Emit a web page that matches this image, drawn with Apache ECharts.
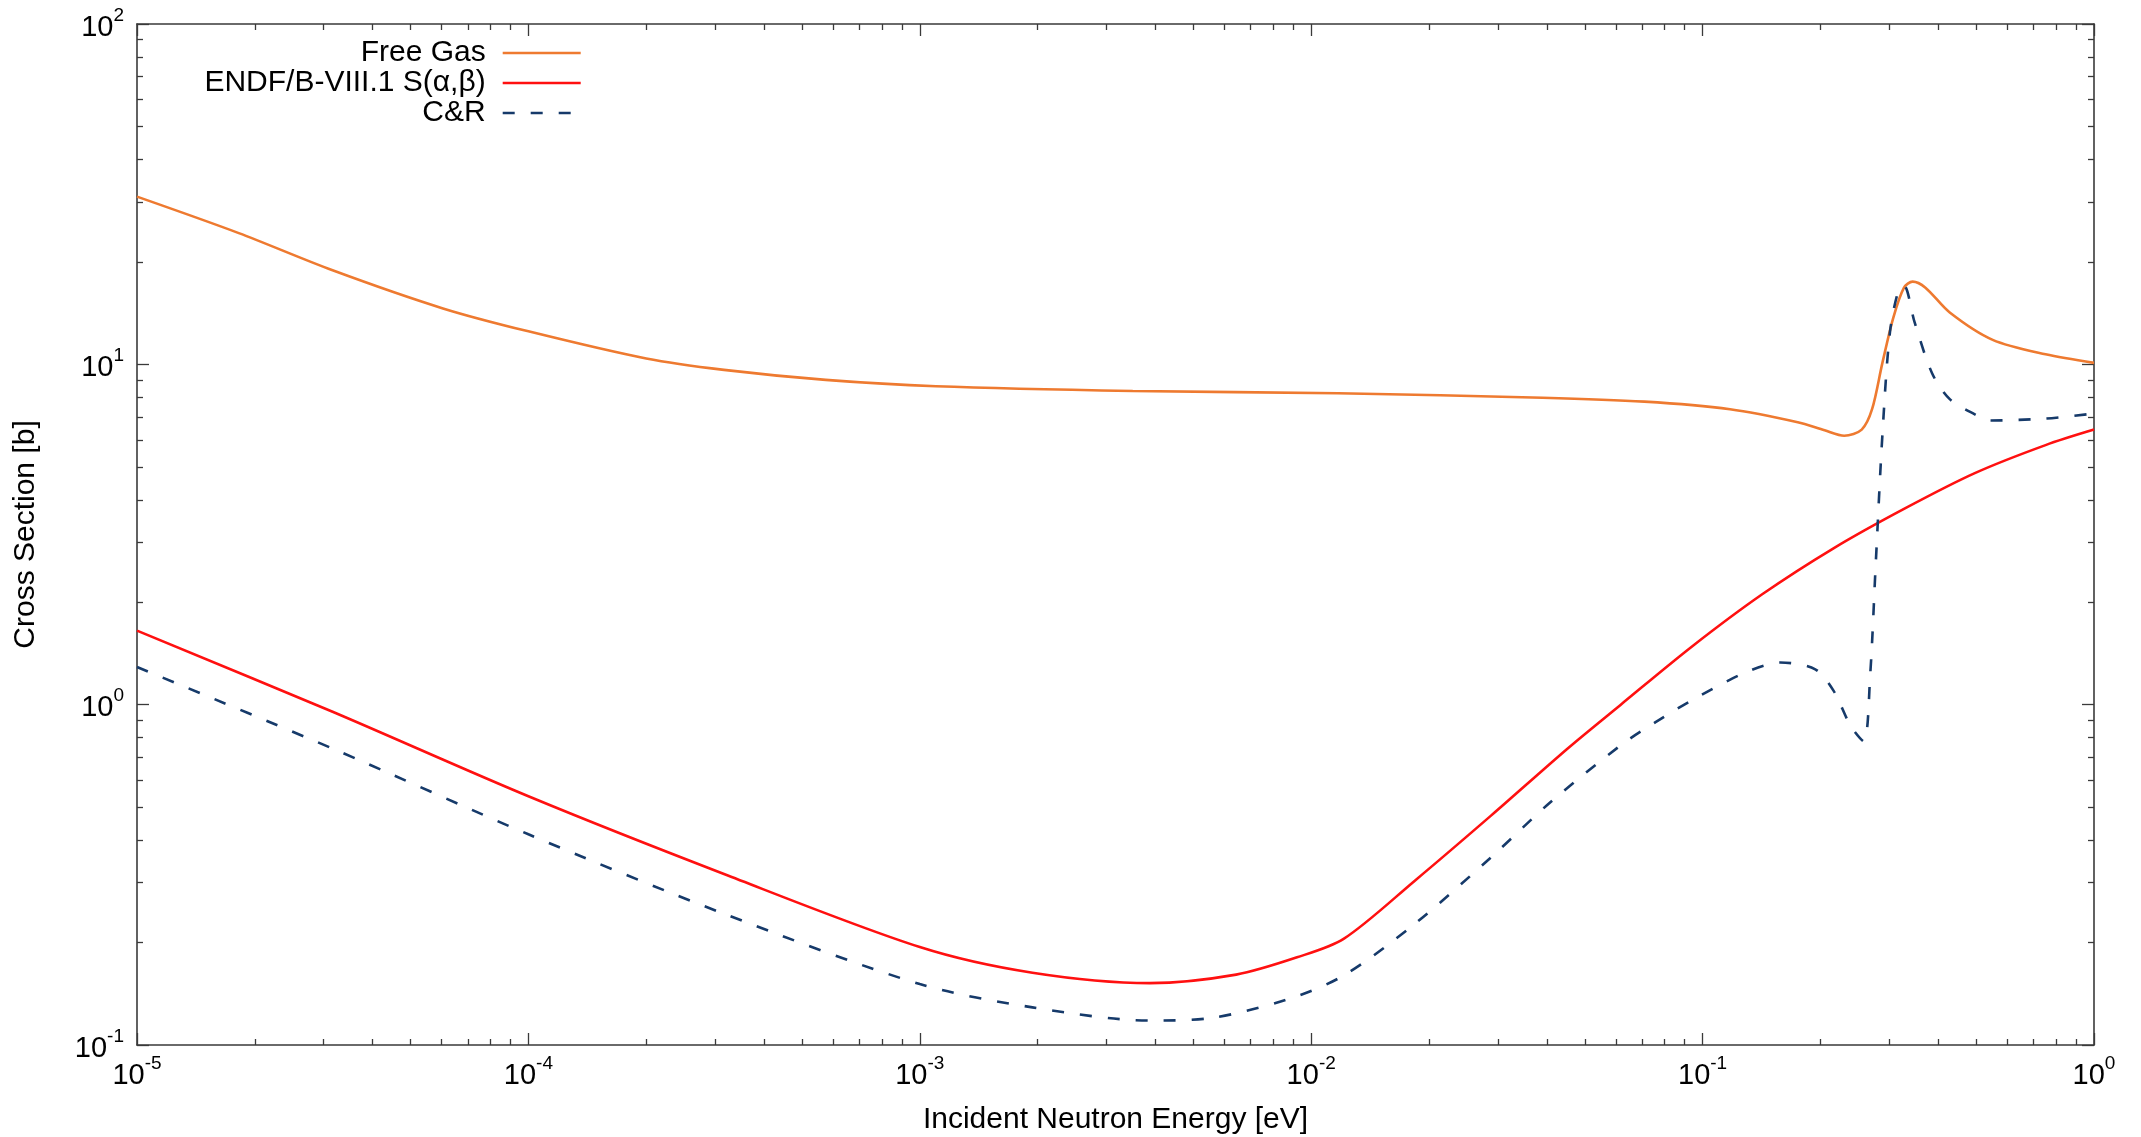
<!DOCTYPE html>
<html>
<head>
<meta charset="utf-8">
<script src="https://cdn.jsdelivr.net/npm/echarts@6/dist/echarts.min.js"></script>
<style>
html,body{margin:0;padding:0;background:#fff;}
#chart{width:2141px;height:1137px;}
</style>
</head>
<body>
<div id="chart"></div>
<script>
// ---- data ----
const freeGasE  = [1e-5, 1.82e-5, 3.16e-5, 6.05e-5, 1e-4, 2e-4, 3.16e-4, 5.75e-4, 1.1e-3, 3.5e-3, 1.17e-2, 3.9e-2, 7.1e-2, 0.1175, 0.175, 0.205, 0.23, 0.255, 0.271, 0.288, 0.307, 0.327, 0.344, 0.371, 0.428, 0.551, 0.752, 1.0];
const freeGasXS = [31.1, 24.3, 18.9, 14.6, 12.5, 10.4, 9.63, 9.0, 8.62, 8.35, 8.22, 7.98, 7.77, 7.38, 6.76, 6.4, 6.17, 6.43, 7.38, 10.1, 13.7, 16.8, 17.5, 16.8, 14.2, 11.8, 10.7, 10.1];

const endfE  = [1e-5, 3.16e-5, 1e-4, 3.16e-4, 1e-3, 1.94e-3, 3.87e-3, 6.43e-3, 9.2e-3, 1.21e-2, 1.84e-2, 2.88e-2, 4.53e-2, 6.18e-2, 9.38e-2, 0.142, 0.216, 0.327, 0.496, 0.752, 1.0];
const endfXS = [1.65, 0.953, 0.538, 0.318, 0.194, 0.163, 0.152, 0.161, 0.181, 0.205, 0.304, 0.472, 0.745, 1.0, 1.48, 2.11, 2.88, 3.76, 4.79, 5.79, 6.43];

const crE  = [1e-5, 3.16e-5, 1e-4, 3.16e-4, 1e-3, 1.94e-3, 3.87e-3, 5.53e-3, 8.67e-3, 1.21e-2, 1.84e-2, 2.88e-2, 4.07e-2, 6.18e-2, 7.6e-2, 9.38e-2, 0.128, 0.158, 0.194, 0.216, 0.239, 0.258, 0.268, 0.277, 0.288, 0.301, 0.317, 0.327, 0.348, 0.386, 0.428, 0.496, 0.543, 0.752, 1.0];
const crXS = [1.29, 0.743, 0.416, 0.243, 0.151, 0.129, 0.118, 0.12, 0.136, 0.16, 0.227, 0.356, 0.515, 0.76, 0.89, 1.03, 1.24, 1.33, 1.27, 1.10, 0.865, 0.78, 1.22, 2.61, 6.2, 12.4, 16.6, 17.0, 13.3, 9.4, 7.9, 7.13, 6.84, 6.93, 7.17];

const seriesNames = ['Free Gas', 'ENDF/B-VIII.1 S(\u03b1,\u03b2)', 'C&R'];
const xMajorTicks = [1e-5, 1e-4, 1e-3, 1e-2, 1e-1, 1];
const yMajorTicks = [0.1, 1, 10, 100];
const xTitle = 'Incident Neutron Energy [eV]';
const yTitle = 'Cross Section [b]';

function minorsFor(decades) {
  const out = [];
  decades.forEach(d => { for (let m = 2; m <= 9; m++) out.push(m * Math.pow(10, d)); });
  return out;
}
const xMinorTicks = minorsFor([-5, -4, -3, -2, -1]);
const yMinorTicks = minorsFor([-1, 0, 1]);

// ---- styles ----
const FONT = '"Liberation Sans", Arial, Helvetica, sans-serif';
const AXIS_COLOR = '#3a3a3a';
const colors = ['#ee7a30', '#ff1010', '#163a6a'];

const richLabel = {
  b: { fontSize: 29, fontFamily: FONT, color: '#000', lineHeight: 36, verticalAlign: 'bottom' },
  s: { fontSize: 19, fontFamily: FONT, color: '#000', lineHeight: 19, verticalAlign: 'top' }
};
function powLabel(v) {
  const e = Math.round(Math.log10(v));
  return '{b|10}{s|' + e + '}';
}

function logAxis(pos, min, max, opts) {
  const a = {
    type: 'log', logBase: 10, min: min, max: max, position: pos,
    gridIndex: 0,
    splitLine: { show: false },
    axisLine: { show: !!opts.line, lineStyle: { color: AXIS_COLOR, width: 1.6 } },
    axisTick: { show: true, inside: true, length: opts.len, customValues: opts.ticks,
                lineStyle: { color: AXIS_COLOR, width: 1.3 } },
    axisLabel: { show: false },
    axisPointer: { show: false },
    silent: true
  };
  if (opts.labels) {
    a.axisLabel = { show: true, customValues: opts.ticks, formatter: powLabel, rich: richLabel,
                    margin: opts.margin, color: '#000' };
  }
  if (opts.name) {
    a.name = opts.name;
    a.nameLocation = 'middle';
    a.nameGap = opts.nameGap;
    a.nameTextStyle = { fontSize: 30, fontFamily: FONT, color: '#000' };
  }
  return a;
}

const xAxes = [
  logAxis('bottom', 1e-5, 1, { line: true, len: 12, ticks: xMajorTicks, labels: true, margin: 9, name: xTitle, nameGap: 60 }),
  logAxis('bottom', 1e-5, 1, { line: false, len: 6, ticks: xMinorTicks }),
  logAxis('top', 1e-5, 1, { line: true, len: 12, ticks: xMajorTicks }),
  logAxis('top', 1e-5, 1, { line: false, len: 6, ticks: xMinorTicks })
];
const yAxes = [
  logAxis('left', 0.1, 100, { line: true, len: 12, ticks: yMajorTicks, labels: true, margin: 13, name: yTitle, nameGap: 96 }),
  logAxis('left', 0.1, 100, { line: false, len: 6, ticks: yMinorTicks }),
  logAxis('right', 0.1, 100, { line: true, len: 12, ticks: yMajorTicks }),
  logAxis('right', 0.1, 100, { line: false, len: 6, ticks: yMinorTicks })
];

function pairs(xs, ys) { return xs.map((x, i) => [x, ys[i]]); }

const seriesData = [pairs(freeGasE, freeGasXS), pairs(endfE, endfXS), pairs(crE, crXS)];
const lineTypes = ['solid', 'solid', [12, 16]];

const series = seriesData.map((d, i) => ({
  type: 'line', name: seriesNames[i], data: d,
  xAxisIndex: 0, yAxisIndex: 0,
  symbol: 'none', showSymbol: false,
  smooth: 0.3,
  lineStyle: { color: colors[i], width: 2.6, type: lineTypes[i] },
  itemStyle: { color: colors[i] },
  emphasis: { disabled: true },
  animation: false, z: 3 + i
}));

const legendTops = [33, 63, 93];
const legends = seriesNames.map((n, i) => ({
  data: [n], top: legendTops[i], right: 1554,
  orient: 'vertical', align: 'right',
  itemWidth: 78, itemHeight: 16,
  selectedMode: false,
  itemStyle: { opacity: 0, borderWidth: 0 },
  lineStyle: { color: colors[i], width: 2.6, type: lineTypes[i], opacity: 1 },
  textStyle: { fontSize: 30, fontFamily: FONT, color: '#000', padding: [0, 12, 0, 0] }
}));

const option = {
  backgroundColor: '#fff',
  animation: false,
  grid: { left: 137, right: 47, top: 24, bottom: 92, outerBoundsMode: 'none', containLabel: false },
  xAxis: xAxes,
  yAxis: yAxes,
  legend: legends,
  series: series
};

const chart = echarts.init(document.getElementById('chart'), null, { renderer: 'canvas' });
chart.setOption(option);
</script>
</body>
</html>
